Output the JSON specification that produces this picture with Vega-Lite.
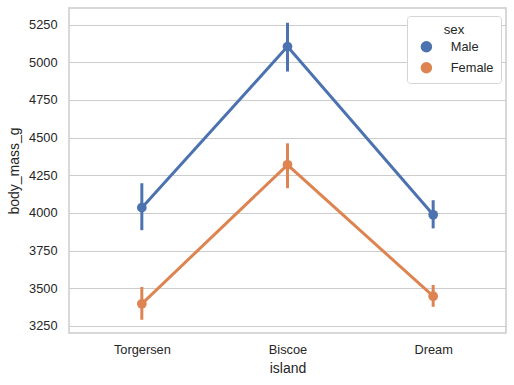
{
  "$schema": "https://vega.github.io/schema/vega-lite/v6.json",
  "width": 437,
  "height": 325,
  "autosize": {"type": "none"},
  "padding": {"left": 69, "top": 8, "right": 8, "bottom": 52},
  "config": {
    "font": "Liberation Sans",
    "view": {"stroke": "#cccccc", "strokeWidth": 1.5},
    "axis": {"labelColor": "#262626", "titleColor": "#262626", "labelFontSize": 12.8, "titleFontSize": 14, "titleFontWeight": "normal", "domain": false, "ticks": false, "gridColor": "#cccccc", "gridWidth": 1}
  },
  "data": {
    "values": [
      {"island": "Torgersen", "sex": "Male", "mean": 4034.8, "lo": 3885, "hi": 4197},
      {"island": "Biscoe", "sex": "Male", "mean": 5104.5, "lo": 4939, "hi": 5263},
      {"island": "Dream", "sex": "Male", "mean": 3987.1, "lo": 3897, "hi": 4084},
      {"island": "Torgersen", "sex": "Female", "mean": 3395.7, "lo": 3290, "hi": 3508},
      {"island": "Biscoe", "sex": "Female", "mean": 4319.4, "lo": 4164, "hi": 4462},
      {"island": "Dream", "sex": "Female", "mean": 3446.3, "lo": 3376, "hi": 3521}
    ]
  },
  "encoding": {
    "x": {"field": "island", "type": "nominal", "sort": ["Torgersen", "Biscoe", "Dream"], "scale": {"type": "point", "padding": 0.5}, "axis": {"labelAngle": 0, "grid": false, "labelPadding": 10, "titlePadding": 6, "title": "island"}},
    "color": {"field": "sex", "type": "nominal", "scale": {"domain": ["Male", "Female"], "range": ["#4c72b0", "#dd8452"]}}
  },
  "layer": [
    {
      "mark": {"type": "rule", "strokeWidth": 3},
      "encoding": {
        "y": {"field": "lo", "type": "quantitative"},
        "y2": {"field": "hi"}
      }
    },
    {
      "mark": {"type": "line", "strokeWidth": 3},
      "encoding": {
        "y": {"field": "mean", "type": "quantitative", "scale": {"domain": [3202, 5361], "nice": false, "zero": false}, "axis": {"values": [3250, 3500, 3750, 4000, 4250, 4500, 4750, 5000, 5250], "format": "d", "labelPadding": 12, "titlePadding": 7, "title": "body_mass_g"}}
      }
    },
    {
      "mark": {"type": "point", "filled": true, "opacity": 1, "size": 95},
      "encoding": {
        "y": {"field": "mean", "type": "quantitative"},
        "color": {"field": "sex", "type": "nominal", "legend": {"orient": "none", "legendX": 338, "legendY": 8, "title": "sex", "titleFontSize": 13.3, "titleFontWeight": "normal", "titleColor": "#262626", "titleAnchor": "middle", "titleAlign": "center", "titlePadding": 4, "labelFontSize": 12.8, "labelColor": "#262626", "fillColor": "white", "strokeColor": "#d5d5d5", "cornerRadius": 3, "padding": 7, "symbolSize": 100, "symbolType": "circle", "symbolOffset": 6, "rowPadding": 4, "labelOffset": 18, "offset": 0}}
      }
    }
  ]
}
